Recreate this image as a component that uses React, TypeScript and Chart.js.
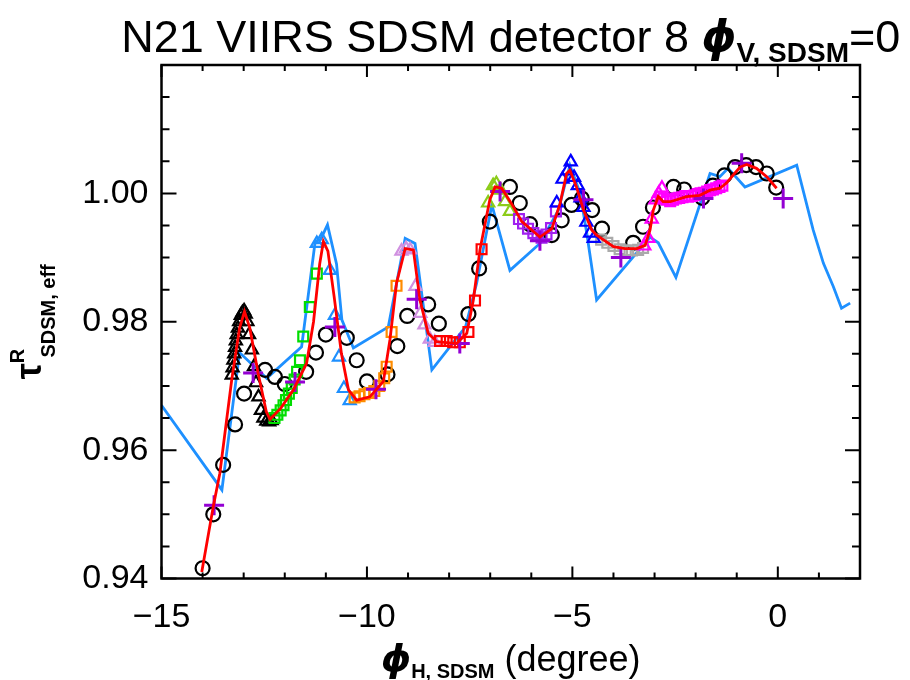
import React, { useEffect, useRef } from 'react';
import { Chart, registerables } from 'chart.js';

Chart.register(...registerables);

// ---------------- axes ----------------
const xRange = [-15, 2];
const yRange = [0.94, 1.02];
const xMajorTicks = [-15, -10, -5, 0];
const xTickLabels = ['\u221215', '\u221210', '\u22125', '0'];
const xMinorTicks = [-14, -13, -12, -11, -9, -8, -7, -6, -4, -3, -2, -1, 1];
const yMajorTicks = [0.94, 0.96, 0.98, 1.0];
const yTickLabels = ['0.94', '0.96', '0.98', '1.00'];
const yMinorTicks = [0.945, 0.95, 0.955, 0.965, 0.97, 0.975, 0.985, 0.99, 0.995, 1.005, 1.01, 1.015];

// ---------------- series ----------------
// blue line
const blueLineX = [-15.0, -13.53, -13.10, -12.44, -11.59, -11.26, -11.13, -10.96, -10.74, -10.61, -10.33, -9.48, -9.07, -8.83, -8.42, -7.60, -7.33, -6.96, -6.52, -5.79, -5.34, -5.06, -4.81, -4.65, -4.41, -3.11, -2.91, -2.48, -1.65, -1.41, -1.21, -0.80, 0.46, 0.86, 1.11, 1.35, 1.55, 1.76];
const blueLineY = [0.9670, 0.9538, 0.9752, 0.9712, 0.9761, 0.9925, 0.9928, 0.9951, 0.9890, 0.9803, 0.9759, 0.9792, 0.9930, 0.9922, 0.9725, 0.9792, 0.9860, 0.9982, 0.9880, 0.9922, 0.9974, 1.0044, 1.0000, 0.9938, 0.9834, 0.9932, 0.9923, 0.9869, 1.0031, 1.0026, 1.0039, 1.0010, 1.0044, 0.9943, 0.9891, 0.9855, 0.9821, 0.9829];

// red model line
const redLineX = [-14.02, -13.74, -13.58, -13.29, -13.10, -12.98, -12.85, -12.65, -12.45, -12.36, -12.10, -11.79, -11.47, -11.30, -11.15, -11.06, -10.95, -10.80, -10.62, -10.45, -10.25, -9.93, -9.60, -9.44, -9.28, -9.07, -8.87, -8.71, -8.51, -8.30, -7.82, -7.57, -7.41, -7.25, -7.01, -6.88, -6.72, -6.48, -6.23, -5.99, -5.79, -5.50, -5.30, -5.14, -5.06, -4.90, -4.73, -4.53, -4.41, -4.00, -3.72, -3.43, -3.23, -3.11, -3.03, -2.91, -2.79, -2.62, -2.22, -1.90, -1.65, -1.41, -1.25, -1.08, -0.92, -0.76, -0.52, -0.27, -0.03];
const redLineY = [0.9410, 0.9512, 0.9564, 0.9710, 0.9790, 0.9816, 0.9790, 0.9720, 0.9660, 0.9648, 0.9665, 0.9694, 0.9735, 0.9800, 0.9890, 0.9925, 0.9910, 0.9840, 0.9750, 0.9694, 0.9678, 0.9683, 0.9707, 0.9772, 0.9860, 0.9914, 0.9912, 0.9834, 0.9782, 0.9769, 0.9766, 0.9782, 0.9834, 0.9912, 0.9990, 1.0010, 1.0008, 0.9984, 0.9956, 0.9943, 0.9932, 0.9945, 0.9984, 1.0031, 1.0036, 1.0010, 0.9974, 0.9943, 0.9935, 0.9917, 0.9914, 0.9914, 0.9919, 0.9943, 0.9974, 0.9995, 0.9987, 0.9987, 0.9995, 0.9997, 1.0005, 1.0008, 1.0016, 1.0029, 1.0041, 1.0045, 1.0039, 1.0026, 1.0008];

// black open circles
const circleX = [-14.0, -13.74, -13.50, -13.21, -12.99, -12.48, -12.24, -12.00, -11.48, -11.24, -11.00, -10.49, -10.25, -10.00, -9.50, -9.26, -9.02, -8.51, -8.25, -7.53, -7.27, -7.01, -6.52, -6.28, -6.03, -5.50, -5.26, -5.02, -4.77, -4.52, -4.28, -3.52, -3.28, -3.04, -2.54, -2.28, -1.84, -1.58, -1.30, -1.04, -0.77, -0.53, -0.27, -0.04];
const circleY = [0.9416, 0.9500, 0.9577, 0.9640, 0.9688, 0.9725, 0.9714, 0.9703, 0.9722, 0.9752, 0.9780, 0.9775, 0.9740, 0.9707, 0.9718, 0.9762, 0.9809, 0.9827, 0.9797, 0.9812, 0.9883, 0.9956, 1.0010, 0.9985, 0.9952, 0.9935, 0.9958, 0.9982, 0.9992, 0.9974, 0.9945, 0.9923, 0.9948, 0.9978, 1.0010, 1.0006, 0.9993, 1.0012, 1.0028, 1.0041, 1.0044, 1.0041, 1.0031, 1.0009];

// black open triangles
const blackTriX = [-13.29, -13.27, -13.25, -13.23, -13.21, -13.19, -13.17, -13.14, -13.11, -13.07, -13.03, -12.99, -12.95, -12.91, -12.87, -12.80, -12.75, -12.70, -12.64, -12.58, -12.52, -12.45, -12.38, -12.32];
const blackTriY = [0.9717, 0.9728, 0.9740, 0.9750, 0.9760, 0.9770, 0.9780, 0.9790, 0.9800, 0.9810, 0.9814, 0.9817, 0.9812, 0.9800, 0.9780, 0.9756, 0.9730, 0.9705, 0.9683, 0.9662, 0.9650, 0.9645, 0.9644, 0.9646];

// green squares
const greenSqX = [-12.25, -12.18, -12.10, -12.03, -11.97, -11.90, -11.83, -11.76, -11.70, -11.63, -11.55, -11.39, -11.22];
const greenSqY = [0.9650, 0.9655, 0.9662, 0.9670, 0.9678, 0.9688, 0.9697, 0.9710, 0.9722, 0.9740, 0.9777, 0.9823, 0.9875];

// light blue triangles
const lightBlueTriX = [-11.22, -11.10, -10.90, -10.78, -10.68, -10.56, -10.42];
const lightBlueTriY = [0.9922, 0.9928, 0.9880, 0.9810, 0.9745, 0.9696, 0.9677];

// orange squares
const orangeSqX = [-10.30, -10.18, -10.06, -9.95, -9.82, -9.70, -9.58, -9.52, -9.40, -9.28];
const orangeSqY = [0.9682, 0.9684, 0.9687, 0.9689, 0.9692, 0.9700, 0.9712, 0.9730, 0.9784, 0.9856];

// lavender triangles
const lavenderTriX = [-9.16, -9.05, -8.95, -8.82, -8.70, -8.60, -8.47, -8.35];
const lavenderTriY = [0.9910, 0.9914, 0.9912, 0.9855, 0.9813, 0.9795, 0.9773, 0.9768];

// red squares
const redSqX = [-8.22, -8.06, -7.90, -7.74, -7.53, -7.37, -7.21];
const redSqY = [0.9770, 0.9770, 0.9768, 0.9768, 0.9784, 0.9833, 0.9913];

// yellow-green triangles
const ygTriX = [-7.05, -6.93, -6.85, -6.75, -6.64, -6.52];
const ygTriY = [0.9985, 1.0012, 1.0015, 1.0005, 0.9987, 0.9972];

// purple squares
const purpleSqX = [-6.30, -6.20, -6.08, -5.95, -5.85, -5.75, -5.63, -5.52, -5.40];
const purpleSqY = [0.9960, 0.9953, 0.9945, 0.9938, 0.9934, 0.9931, 0.9936, 0.9946, 0.9972];

// dark blue triangles
const darkBlueTriX = [-5.38, -5.24, -5.12, -5.04, -4.96, -4.87, -4.80, -4.73, -4.66, -4.57, -4.48];
const darkBlueTriY = [0.9985, 1.0022, 1.0035, 1.0049, 1.0025, 1.0012, 0.9993, 0.9978, 0.9955, 0.9938, 0.9930];

// grey squares
const greySqX = [-4.30, -4.15, -4.00, -3.85, -3.70, -3.55, -3.40, -3.28];
const greySqY = [0.9928, 0.9923, 0.9918, 0.9913, 0.9911, 0.9911, 0.9912, 0.9915];

// magenta triangles
const magentaTriX = [-3.25, -3.15, -3.07, -2.98, -2.90, -2.82];
const magentaTriY = [0.9918, 0.9930, 0.9960, 0.9990, 1.0000, 1.0008];

// magenta squares
const magentaSqX = [-2.85, -2.78, -2.70, -2.62, -2.55, -2.48, -2.40, -2.32, -2.25, -2.18, -2.10, -2.02, -1.95, -1.88, -1.80, -1.72, -1.65, -1.58, -1.50, -1.42, -1.35];
const magentaSqY = [0.9995, 0.9992, 0.9990, 0.9988, 0.9990, 0.9992, 0.9993, 0.9994, 0.9996, 0.9995, 0.9996, 0.9997, 0.9999, 1.0000, 1.0001, 1.0003, 1.0005, 1.0006, 1.0008, 1.0010, 1.0012];

// purple plus markers
const plusX = [-13.72, -12.77, -11.75, -10.78, -9.78, -8.79, -7.74, -6.76, -5.79, -4.73, -3.82, -1.81, -0.88, 0.13];
const plusY = [0.9514, 0.9720, 0.9706, 0.9792, 0.9695, 0.9835, 0.9766, 1.0003, 0.9926, 0.9990, 0.9900, 0.9992, 1.0047, 0.9992];

// ---------------- helpers ----------------
const pts = (xs: number[], ys: number[]) => xs.map((x, i) => ({ x, y: ys[i] }));

function lineSet(label: string, xs: number[], ys: number[], color: string, width: number, order: number) {
  return {
    label,
    data: pts(xs, ys),
    showLine: true,
    borderColor: color,
    borderWidth: width,
    pointRadius: 0,
    fill: false,
    tension: 0,
    order,
  };
}

function markerSet(label: string, xs: number[], ys: number[], style: string, color: string, radius: number, order: number, lw = 2.2) {
  return {
    label,
    data: pts(xs, ys),
    showLine: false,
    pointStyle: style,
    pointRadius: radius,
    pointBorderColor: color,
    pointBackgroundColor: 'rgba(0,0,0,0)',
    pointBorderWidth: lw,
    order,
  };
}

type Part = { text: string; font: string; dy: number; stack?: boolean };

function drawRich(ctx: CanvasRenderingContext2D, parts: Part[], cx: number, base: number) {
  const widths = parts.map((p) => {
    ctx.font = p.font;
    return ctx.measureText(p.text).width;
  });
  let total = 0;
  let cur = 0;
  const starts: number[] = [];
  let prevStart = 0;
  parts.forEach((p, i) => {
    if (p.stack) {
      starts.push(prevStart);
      cur = Math.max(cur, prevStart + widths[i]);
    } else {
      starts.push(cur);
      prevStart = cur;
      cur = cur + widths[i];
    }
    total = Math.max(total, cur);
  });
  const x0 = cx - total / 2;
  parts.forEach((p, i) => {
    ctx.font = p.font;
    ctx.fillText(p.text, x0 + starts[i], base + p.dy);
  });
}

const FONT = '"Liberation Sans", Arial, sans-serif';
const GREEK = '"DejaVu Sans", "Liberation Sans", sans-serif';

const framePlugin = {
  id: 'idlFrame',
  afterDraw(chart: any) {
    const { ctx, chartArea: a, scales } = chart;
    const xs = scales.x;
    const ys = scales.y;
    ctx.save();
    ctx.strokeStyle = '#000';
    ctx.lineWidth = 2;
    ctx.beginPath();
    const xTick = (v: number, len: number) => {
      const px = xs.getPixelForValue(v);
      ctx.moveTo(px, a.bottom);
      ctx.lineTo(px, a.bottom - len);
      ctx.moveTo(px, a.top);
      ctx.lineTo(px, a.top + len);
    };
    const yTick = (v: number, len: number) => {
      const py = ys.getPixelForValue(v);
      ctx.moveTo(a.left, py);
      ctx.lineTo(a.left + len, py);
      ctx.moveTo(a.right, py);
      ctx.lineTo(a.right - len, py);
    };
    xMajorTicks.forEach((v) => xTick(v, 12));
    xMinorTicks.forEach((v) => xTick(v, 6));
    yMajorTicks.forEach((v) => yTick(v, 15));
    yMinorTicks.forEach((v) => yTick(v, 8));
    ctx.stroke();
    ctx.lineWidth = 2.5;
    ctx.strokeRect(a.left, a.top, a.right - a.left, a.bottom - a.top);

    // texts
    ctx.fillStyle = '#000';
    ctx.textBaseline = 'alphabetic';
    ctx.textAlign = 'left';
    const cx = (a.left + a.right) / 2;
    // title
    drawRich(
      ctx,
      [
        { text: 'N21 VIIRS SDSM detector 8 ', font: `45px ${FONT}`, dy: 0 },
        { text: '\u03D5', font: `oblique bold 44px ${GREEK}`, dy: 0 },
        { text: 'V, SDSM', font: `bold 28px ${FONT}`, dy: 10 },
        { text: '=0', font: `45px ${FONT}`, dy: 0 },
      ],
      cx,
      52
    );
    // x axis title
    drawRich(
      ctx,
      [
        { text: '\u03D5', font: `oblique bold 38px ${GREEK}`, dy: 0 },
        { text: 'H, SDSM', font: `bold 20px ${FONT}`, dy: 7 },
        { text: ' (degree)', font: `36px ${FONT}`, dy: 0 },
      ],
      cx,
      671
    );
    // y axis title (rotated)
    const cy = (a.top + a.bottom) / 2;
    ctx.save();
    ctx.translate(41, cy);
    ctx.rotate(-Math.PI / 2);
    drawRich(
      ctx,
      [
        { text: '\u03C4', font: `bold 36px ${FONT}`, dy: 0 },
        { text: 'R', font: `bold 20px ${FONT}`, dy: -17 },
        { text: ' SDSM, eff', font: `bold 20px ${FONT}`, dy: 14, stack: true },
      ],
      0,
      0
    );
    ctx.restore();
    ctx.restore();
  },
};

export default function App() {
  const ref = useRef<HTMLCanvasElement>(null);
  useEffect(() => {
    document.body.style.margin = '0';
    const datasets: any[] = [
      lineSet('model', redLineX, redLineY, '#ff0000', 2.8, 0),
      markerSet('plus', plusX, plusY, 'cross', '#9400d3', 10, 1, 3),
      markerSet('darkBlueTri', darkBlueTriX, darkBlueTriY, 'triangle', '#0000ff', 7, 2),
      markerSet('magentaSq', magentaSqX, magentaSqY, 'rect', '#ff00ff', 7, 3),
      markerSet('magentaTri', magentaTriX, magentaTriY, 'triangle', '#ff00ff', 7, 4),
      markerSet('greySq', greySqX, greySqY, 'rect', '#aaaaaa', 7, 5),
      markerSet('purpleSq', purpleSqX, purpleSqY, 'rect', '#a020f0', 7, 6),
      markerSet('ygTri', ygTriX, ygTriY, 'triangle', '#8ccc1a', 7, 7),
      markerSet('redSq', redSqX, redSqY, 'rect', '#ff0000', 7, 8),
      markerSet('lavenderTri', lavenderTriX, lavenderTriY, 'triangle', '#d090e0', 7, 9),
      markerSet('orangeSq', orangeSqX, orangeSqY, 'rect', '#ff8c00', 7, 10),
      markerSet('lightBlueTri', lightBlueTriX, lightBlueTriY, 'triangle', '#1e90ff', 7, 11),
      markerSet('greenSq', greenSqX, greenSqY, 'rect', '#00dd00', 7, 12),
      markerSet('blackTri', blackTriX, blackTriY, 'triangle', '#000000', 7, 13),
      markerSet('circle', circleX, circleY, 'circle', '#000000', 7, 14),
      lineSet('blue', blueLineX, blueLineY, '#1e90ff', 2.8, 20),
    ];
    const chart = new Chart(ref.current as HTMLCanvasElement, {
      type: 'scatter',
      data: { datasets },
      options: {
        animation: false,
        responsive: false,
        devicePixelRatio: 1,
        events: [],
        layout: { padding: { top: 65, right: 50, left: 0, bottom: 0 } },
        plugins: { legend: { display: false }, tooltip: { enabled: false }, title: { display: false } },
        scales: {
          x: {
            type: 'linear',
            min: xRange[0],
            max: xRange[1],
            grid: { display: false, drawTicks: false },
            border: { display: false },
            afterBuildTicks: (s: any) => {
              s.ticks = xMajorTicks.map((v) => ({ value: v }));
            },
            afterFit: (s: any) => {
              s.height = 101.5;
            },
            ticks: {
              autoSkip: false,
              maxRotation: 0,
              padding: 19,
              color: '#000',
              font: { family: FONT, size: 34 },
              callback: (_v: any, i: number) => xTickLabels[i],
            },
          },
          y: {
            type: 'linear',
            min: yRange[0],
            max: yRange[1],
            grid: { display: false, drawTicks: false },
            border: { display: false },
            afterBuildTicks: (s: any) => {
              s.ticks = yMajorTicks.map((v) => ({ value: v }));
            },
            afterFit: (s: any) => {
              s.width = 161.5;
            },
            ticks: {
              autoSkip: false,
              padding: 13,
              color: '#000',
              font: { family: FONT, size: 34 },
              callback: (_v: any, i: number) => yTickLabels[i],
            },
          },
        },
      } as any,
      plugins: [framePlugin],
    });
    return () => chart.destroy();
  }, []);
  return (
    <div style={{ width: 910, height: 680, background: '#fff' }}>
      <canvas ref={ref} width={910} height={680} style={{ display: 'block' }} />
    </div>
  );
}
